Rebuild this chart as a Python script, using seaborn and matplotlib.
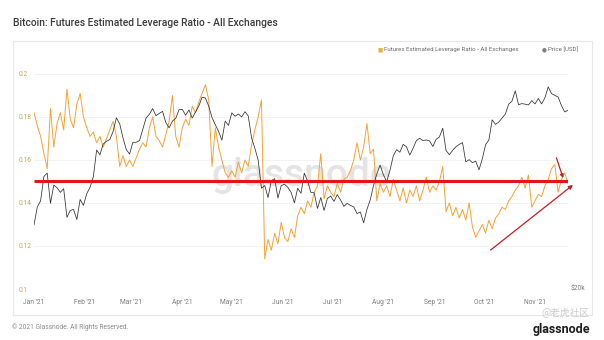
import numpy as np
import pandas as pd
import matplotlib
matplotlib.use("Agg")
import matplotlib.pyplot as plt
import matplotlib.dates as mdates
from matplotlib.patches import Rectangle
from matplotlib.ticker import NullLocator
import seaborn as sns

# ---- data (one value every 2 days from 2021-01-01) ----
start_date = "2021-01-01"
step_days = 2

leverage_ratio = [
    0.182, 0.176, 0.171, 0.163, 0.156, 0.184, 0.166, 0.177, 0.182, 0.174,
    0.193, 0.179, 0.175, 0.186, 0.191, 0.180, 0.175, 0.171, 0.173, 0.168,
    0.171, 0.166, 0.170, 0.174, 0.178, 0.171, 0.157, 0.162, 0.157, 0.160,
    0.157, 0.161, 0.165, 0.168, 0.166, 0.175, 0.180, 0.171, 0.169, 0.166,
    0.172, 0.178, 0.190, 0.171, 0.166, 0.175, 0.179, 0.176, 0.185, 0.182,
    0.187, 0.191, 0.195, 0.188, 0.157, 0.175, 0.166, 0.160, 0.154, 0.152,
    0.155, 0.152, 0.159, 0.154, 0.160, 0.157, 0.167, 0.174, 0.180, 0.188,
    0.114, 0.123, 0.118, 0.126, 0.121, 0.131, 0.124, 0.122, 0.128, 0.124,
    0.134, 0.138, 0.135, 0.141, 0.138, 0.145, 0.148, 0.163, 0.142, 0.148,
    0.145, 0.143, 0.149, 0.145, 0.151, 0.152, 0.155, 0.160, 0.168, 0.160,
    0.166, 0.177, 0.163, 0.165, 0.141, 0.149, 0.145, 0.148, 0.143, 0.151,
    0.146, 0.141, 0.147, 0.140, 0.146, 0.143, 0.148, 0.141, 0.146, 0.152,
    0.145, 0.148, 0.146, 0.150, 0.157, 0.136, 0.140, 0.134, 0.138, 0.133,
    0.137, 0.132, 0.140, 0.129, 0.124, 0.127, 0.130, 0.126, 0.132, 0.128,
    0.133, 0.135, 0.138, 0.137, 0.141, 0.143, 0.146, 0.148, 0.152, 0.147,
    0.153, 0.138, 0.141, 0.144, 0.143, 0.148, 0.151, 0.156, 0.158, 0.145,
    0.151, 0.154, 0.149,
]

price_usd = [
    # Jan
    29400, 32800, 34000, 39400, 40200, 33500, 37400, 36800, 35800, 36600,
    30800, 32100, 32300, 30400, 34300, 33100,
    # Feb
    35500, 36900, 39300, 46200, 44900, 47900, 48700, 49200, 51700, 56100,
    54100, 49700, 46300, 45100,
    # Mar
    48400, 48400, 48900, 52300, 56000, 57300, 59300, 56800, 57600, 58300,
    54500, 52800, 55000, 55900, 58900,
    # Apr
    59000, 57000, 58800, 56000, 58100, 60200, 63500, 63200, 60200, 56200,
    53800, 51700, 49000, 55000, 53600,
    # May
    57800, 56600, 57400, 56400, 58200, 56700, 49700, 46700, 43500, 36700,
    37300, 34700, 38400, 38900, 34600, 37300,
    # Jun
    37600, 36900, 35800, 33600, 36700, 35600, 40200, 38300, 35800, 35700,
    32500, 34700, 32100, 34500, 35000,
    # Jul
    33900, 35300, 34200, 32900, 33500, 33100, 32800, 31500, 31800, 29800,
    32300, 34200, 37300, 40000, 42200,
    # Aug
    39800, 38200, 40900, 44600, 46300, 45600, 47800, 47100, 44800, 46700,
    48900, 49600, 48900, 49100, 48800, 47200,
    # Sep
    49300, 50000, 52700, 46100, 44900, 46100, 47100, 47800, 48300, 43000,
    43600, 42800, 43200, 41000, 43800,
    # Oct
    47700, 49100, 55400, 53900, 54700, 56000, 57400, 60900, 62000, 66000,
    60700, 61100, 60900, 60600, 62200,
    # Nov
    61000, 63000, 61000, 63300, 67600, 64900, 64200, 63600, 60400, 58100,
    58700,
]

month_ticks = pd.date_range("2021-01-01", "2021-11-01", freq="MS")
month_labels = [d.strftime("%b '%y") for d in month_ticks]
ratio_ticks = [0.1, 0.12, 0.14, 0.16, 0.18, 0.2]
ratio_tick_labels = ["0.1", "0.12", "0.14", "0.16", "0.18", "0.2"]
price_ticks = [20000]
price_tick_labels = ["$20k"]

reference_level = 0.1502
trend_arrow = (("2021-10-05", 0.1181), ("2021-11-24", 0.1484))
pointer_arrow = (("2021-11-14", 0.1610), ("2021-11-18", 0.1516))

series_title = "Futures Estimated Leverage Ratio - All Exchanges"
price_title = "Price [USD]"

dates = pd.date_range(start_date, periods=len(leverage_ratio), freq=f"{step_days}D")
df = pd.DataFrame({"date": dates, "ratio": leverage_ratio, "price": price_usd})

# ---- style ----
sns.set_theme(style="white")
plt.rcParams["font.family"] = ["Roboto", "DejaVu Sans"]

ORANGE = "#f4a236"
PRICE_C = "#2f2f2f"
RED = "#e5141b"
DARKRED = "#c0202a"
TICK_GOLD = "#c9a652"
MUTED = "#7a7a7a"

W, H = 604, 340
fig = plt.figure(figsize=(W / 100, H / 100), dpi=100)
fig.patch.set_facecolor("white")


def fx(px):
    return px / W


def fy(py):
    return 1 - py / H


# outer card
fig.patches.append(Rectangle((fx(12.7), fy(315)), (592 - 12.7) / W, (315 - 40.7) / H,
                             transform=fig.transFigure, fill=False,
                             ec="#e8e8e8", lw=0.8, zorder=0))

fig.text(fx(12.7), fy(22.5), "Bitcoin: Futures Estimated Leverage Ratio - All Exchanges",
         fontsize=7.4, color="#3b3b3b", va="center", ha="left", fontweight="medium")

ax = fig.add_axes([fx(34), fy(289), (568 - 34) / W, (289 - 62) / H])
ax.set_facecolor("none")

# leverage ratio on the left axis
sns.lineplot(data=df, x="date", y="ratio", ax=ax, color=ORANGE, lw=0.7, zorder=3)
ax.set_ylim(0.1, 0.1 + 227 / 2150)
ax.set_xlim(dates[0], dates[-1])
ax.set_yticks(ratio_ticks)
ax.set_yticklabels(ratio_tick_labels)
ax.set_xticks(month_ticks)
ax.set_xticklabels(month_labels)
ax.tick_params(axis="y", length=0, pad=10.8, labelsize=4.8, labelcolor=TICK_GOLD)
ax.tick_params(axis="x", length=0, pad=7.0, labelsize=4.8, labelcolor=MUTED)
for lbl in ax.get_yticklabels():
    lbl.set_horizontalalignment("left")
for yv in ratio_ticks[1:]:
    ax.axhline(yv, color="#f1f1f1", lw=0.6, zorder=0)
ax.set_xlabel("")
ax.set_ylabel("")
for s in ax.spines.values():
    s.set_visible(False)

# faint brand watermark behind the lines
ax.text(0.5, 0.5, "glassnode", transform=ax.transAxes, fontsize=28, color="#e4e4e4",
        ha="center", va="center", zorder=1, fontweight="medium")

# price on a log-scaled right axis
ax2 = ax.twinx()
sns.lineplot(data=df, x="date", y="price", ax=ax2, color=PRICE_C, lw=0.55, zorder=3)
ax2.set_yscale("log")
ax2.set_ylim(20000, 20000 * np.exp(227 / 166.0))
ax2.yaxis.set_minor_locator(NullLocator())
ax2.set_yticks(price_ticks)
ax2.set_yticklabels(price_tick_labels)
ax2.tick_params(axis="y", length=0, pad=2, labelsize=4.8, labelcolor=MUTED)
for lbl in ax2.get_yticklabels():
    lbl.set_verticalalignment("center")
ax2.set_xlabel("")
ax2.set_ylabel("")
for s in ax2.spines.values():
    s.set_visible(False)

# red reference line and arrows (in leverage-ratio units)
x0 = mdates.date2num(dates[0])
x1 = mdates.date2num(dates[-1])
ax2.plot([x0, x1], [reference_level, reference_level], color=RED, lw=2.2,
         transform=ax.transData, zorder=5, solid_capstyle="butt")


def draw_arrow(spec, color, lw, scale):
    (t_date, t_val), (h_date, h_val) = spec
    ax2.annotate("", xy=(mdates.date2num(pd.Timestamp(h_date)), h_val),
                 xytext=(mdates.date2num(pd.Timestamp(t_date)), t_val),
                 xycoords=ax.transData, textcoords=ax.transData,
                 arrowprops=dict(arrowstyle="-|>", color=color, lw=lw,
                                 mutation_scale=scale, shrinkA=0, shrinkB=0),
                 annotation_clip=False, zorder=6)


draw_arrow(trend_arrow, DARKRED, 0.9, 6)
draw_arrow(pointer_arrow, DARKRED, 0.9, 5)

# legend row
fig.text(fx(380), fy(50), "\u25a0", color="#e5b040", fontsize=4.0, ha="center", va="center")
fig.text(fx(384), fy(50), series_title, color="#6a6a6a", fontsize=4.4, ha="left", va="center")
fig.text(fx(544), fy(50), "\u25cf", color="#7d7d7d", fontsize=4.0, ha="center", va="center")
fig.text(fx(548), fy(50), price_title, color="#6a6a6a", fontsize=4.4, ha="left", va="center")

# footer
fig.text(fx(12), fy(327), "\u00a9 2021 Glassnode. All Rights Reserved.", color="#8a8a8a",
         fontsize=4.8, ha="left", va="center")
fig.text(fx(590), fy(329), "glassnode", color="#1e1e1e", fontsize=9, fontweight="bold",
         ha="right", va="center")
fig.text(fx(590), fy(312), "@\u8001\u864e\u793e\u533a", color="#c4c4c4", fontsize=7,
         ha="right", va="center", family=["Noto Sans CJK SC", "DejaVu Sans"], alpha=0.85)

fig.savefig("out.png", dpi=100)
